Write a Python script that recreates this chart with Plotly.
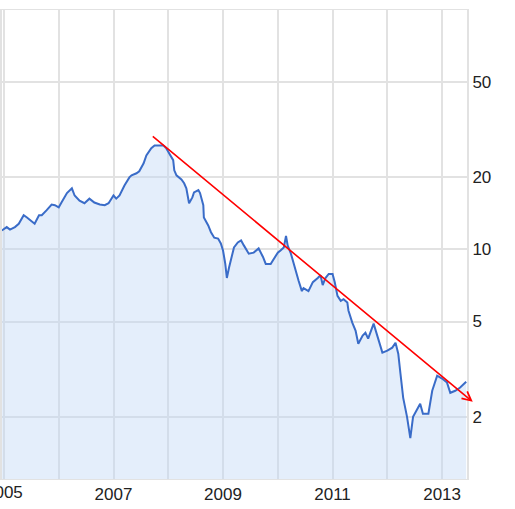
import math
import plotly.graph_objects as go

# price series (decimal year, value)
years = [2004.96, 2005.05, 2005.11, 2005.20, 2005.27, 2005.36, 2005.42, 2005.51, 2005.56, 2005.64,
         2005.69, 2005.78, 2005.87, 2005.93, 2006.00, 2006.05, 2006.15, 2006.24, 2006.29, 2006.38,
         2006.47, 2006.56, 2006.65, 2006.75, 2006.84, 2006.91, 2007.00, 2007.05, 2007.11, 2007.20,
         2007.29, 2007.33, 2007.42, 2007.47, 2007.55, 2007.60, 2007.69, 2007.75, 2007.84, 2007.91,
         2007.96, 2008.02, 2008.09, 2008.11, 2008.15, 2008.24, 2008.29, 2008.33, 2008.36, 2008.38,
         2008.44, 2008.47, 2008.55, 2008.58, 2008.64, 2008.65, 2008.73, 2008.78, 2008.84, 2008.91,
         2008.96, 2009.00, 2009.04, 2009.07, 2009.11, 2009.16, 2009.20, 2009.27, 2009.33, 2009.38,
         2009.47, 2009.56, 2009.65, 2009.73, 2009.78, 2009.87, 2009.93, 2010.00, 2010.05, 2010.11,
         2010.15, 2010.18, 2010.24, 2010.29, 2010.33, 2010.38, 2010.44, 2010.47, 2010.56, 2010.64,
         2010.73, 2010.78, 2010.82, 2010.87, 2010.93, 2011.00, 2011.04, 2011.09, 2011.15, 2011.20,
         2011.27, 2011.29, 2011.36, 2011.42, 2011.47, 2011.55, 2011.60, 2011.65, 2011.75, 2011.82,
         2011.91, 2012.00, 2012.09, 2012.15, 2012.20, 2012.24, 2012.29, 2012.36, 2012.42, 2012.47,
         2012.55, 2012.60, 2012.65, 2012.75, 2012.82, 2012.91, 2013.00, 2013.09, 2013.15, 2013.24,
         2013.33, 2013.44]
prices = [12.0, 12.4, 12.1, 12.4, 12.8, 13.9, 13.6, 13.0, 12.8, 13.9,
          13.9, 14.6, 15.4, 15.3, 15.0, 15.7, 17.2, 18.0, 16.8, 16.0,
          15.6, 16.3, 15.7, 15.4, 15.3, 15.6, 16.8, 16.3, 16.8, 18.5,
          20.0, 20.4, 20.8, 21.2, 22.9, 24.7, 26.5, 27.2, 27.2, 27.2,
          26.5, 25.0, 23.6, 21.4, 20.4, 19.6, 18.9, 18.0, 16.8, 15.6,
          16.5, 17.3, 17.7, 17.2, 15.3, 13.6, 12.6, 11.8, 11.2, 11.1,
          10.6, 9.9, 8.74, 7.6, 8.4, 9.3, 10.2, 10.7, 10.9, 10.4,
          9.6, 9.7, 10.1, 9.3, 8.7, 8.7, 9.2, 9.7, 9.9, 10.2,
          11.4, 10.4, 9.6, 8.7, 8.0, 7.4, 6.7, 6.9, 6.7, 7.3,
          7.6, 7.8, 7.1, 7.6, 7.9, 7.9, 7.3, 6.4, 6.1, 6.2,
          6.0, 5.56, 4.95, 4.58, 4.04, 4.37, 4.49, 4.24, 4.90, 4.37,
          3.71, 3.78, 3.89, 4.08, 3.67, 3.03, 2.40, 2.0, 1.63, 2.0,
          2.18, 2.27, 2.06, 2.06, 2.57, 2.97, 2.89, 2.78, 2.52, 2.57,
          2.65, 2.80]

# hand-drawn trend arrow (tail, head)
trend_x = [2007.69, 2013.56]
trend_y = [30.0, 2.31]

year_ticks = list(range(2005, 2014))
# 2005 is drawn separately (it is cut off at the left edge)
year_labels = [str(y) if y % 2 == 1 and y > 2005 else "" for y in year_ticks]
price_ticks = [2, 5, 10, 20, 50, 100]
price_labels = ["2", "5", "10", "20", "50", ""]

fig = go.Figure()
fig.add_trace(go.Scatter(
    x=years, y=prices, mode="lines",
    line=dict(color="#3a6cc8", width=2),
    fill="tozeroy", fillcolor="rgba(190,215,245,0.42)",
    hoverinfo="skip"))

fig.add_annotation(
    x=trend_x[1], y=math.log10(trend_y[1]),
    ax=trend_x[0], ay=math.log10(trend_y[0]),
    xref="x", yref="y", axref="x", ayref="y",
    showarrow=True, arrowhead=5, arrowsize=1.1, arrowwidth=1.6,
    arrowcolor="#ff0000", text="")

fig.add_annotation(x=year_ticks[0], y=0, xref="x", yref="paper", yanchor="top",
                   yshift=-2, showarrow=False, text=str(year_ticks[0]))

grid = "#e2e2e2"
fig.update_layout(
    width=515, height=509,
    margin=dict(l=0, r=48, t=10, b=30),
    paper_bgcolor="white", plot_bgcolor="white",
    showlegend=False,
    font=dict(family="Liberation Sans, Arial, sans-serif", size=17, color="#222222"),
    xaxis=dict(range=[2004.964, 2013.455], tickvals=year_ticks, ticktext=year_labels,
               showgrid=True, gridcolor=grid, gridwidth=2, zeroline=False,
               showline=True, linecolor=grid, linewidth=1, mirror=True, ticks=""),
    yaxis=dict(type="log", range=[math.log10(1.1), 2], side="right",
               tickvals=price_ticks, ticktext=price_labels,
               showgrid=True, gridcolor=grid, gridwidth=2, zeroline=False,
               showline=True, linecolor=grid, linewidth=2, mirror=True, ticks=""),
)

fig.write_html("out.html", config={"displayModeBar": False},
               post_script="document.body.style.margin='0';")
